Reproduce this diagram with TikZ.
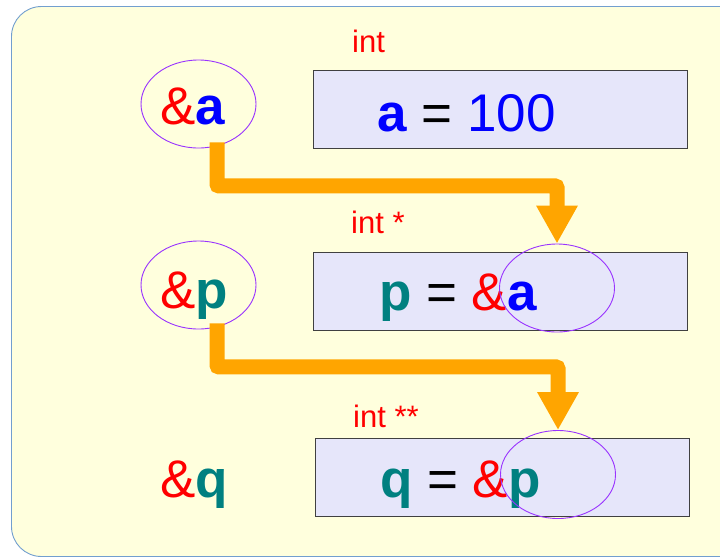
\documentclass[tikz,border=0pt]{standalone}
\usepackage{fontspec}
\setmainfont{Liberation Sans}
\usetikzlibrary{arrows.meta,positioning,calc,shapes.geometric}
\definecolor{paper}{RGB}{255,255,221}
\definecolor{frame}{RGB}{114,159,207}
\definecolor{cellfill}{RGB}{230,230,250}
\definecolor{cellline}{RGB}{64,64,64}
\definecolor{ringcol}{RGB}{153,51,255}
\definecolor{pointer}{RGB}{255,165,0}
\definecolor{ptrvar}{RGB}{0,128,128}
\newcommand{\refamp}{\textcolor{red}{\&}}
\newcommand{\vara}{\textcolor{blue}{\bfseries a}}
\newcommand{\varp}{\textcolor{ptrvar}{\bfseries p}}
\newcommand{\varq}{\textcolor{ptrvar}{\bfseries q}}
\tikzset{
  big/.style={font=\fontsize{53}{60}\selectfont, inner sep=0pt, anchor=base west},
  typename/.style={font=\fontsize{31}{36}\selectfont, text=red, inner sep=0pt, anchor=base west},
  cell/.style={draw=cellline, fill=cellfill, line width=1.2pt, minimum width=374pt, minimum height=78pt, anchor=north west, inner sep=0pt},
  ring/.style={draw=ringcol, ellipse, line width=0.9pt, minimum width=115pt, minimum height=88pt, inner sep=0pt},
  ref/.style={draw=pointer, line width=15pt, rounded corners=2pt, -{Triangle[length=38pt,width=39pt]}},
}

\begin{document}
\begin{tikzpicture}[x=1pt, y=-1pt]
  \useasboundingbox (0,0) rectangle (720,558);
  \clip (0,0) rectangle (720,558);
  % background panel, runs off the right edge
  \draw[frame, fill=paper, line width=0.9pt, rounded corners=30pt] (11.5,6.5) rectangle (770,556.5);

  % memory cells
  \node[cell] (cellA) at (313,70) {};
  \node[cell] (cellP) at (313,252) {};
  \node[cell] (cellQ) at (315,438) {};

  \node[typename] (typeA) at (352,52) {int};
  \node[typename] (typeP) at (351,233) {int *};
  \node[typename] (typeQ) at (353,427) {int **};

  \node[big] (valA) at (377,131) {\vara{} = \textcolor{blue}{100}};
  \node[big] (valP) at (379,310) {\varp{} = \refamp\vara};
  \node[big] (valQ) at (380,497) {\varq{} = \refamp\varp};

  % addresses
  \node[big] (addrA) at (160,124) {\refamp\vara};
  \node[big] (addrP) at (160,308) {\refamp\varp};
  \node[big] (addrQ) at (160,497) {\refamp\varq};

  \node[ring] (ptrA) at (198.5,104) {};
  \node[ring] (ptrP) at (198.5,285) {};
  \node[ring] (tgtP) at (557,288) {};
  \node[ring] (tgtQ) at (558,474.5) {};

  \draw[ref] ($(ptrA.south)+(18.5,-6)$) -- ++(0,43.5) -| (tgtP.north);
  \draw[ref] ($(ptrP.south)+(18.5,-6)$) -- ++(0,43.5) -| (tgtQ.north);
\end{tikzpicture}
\end{document}
